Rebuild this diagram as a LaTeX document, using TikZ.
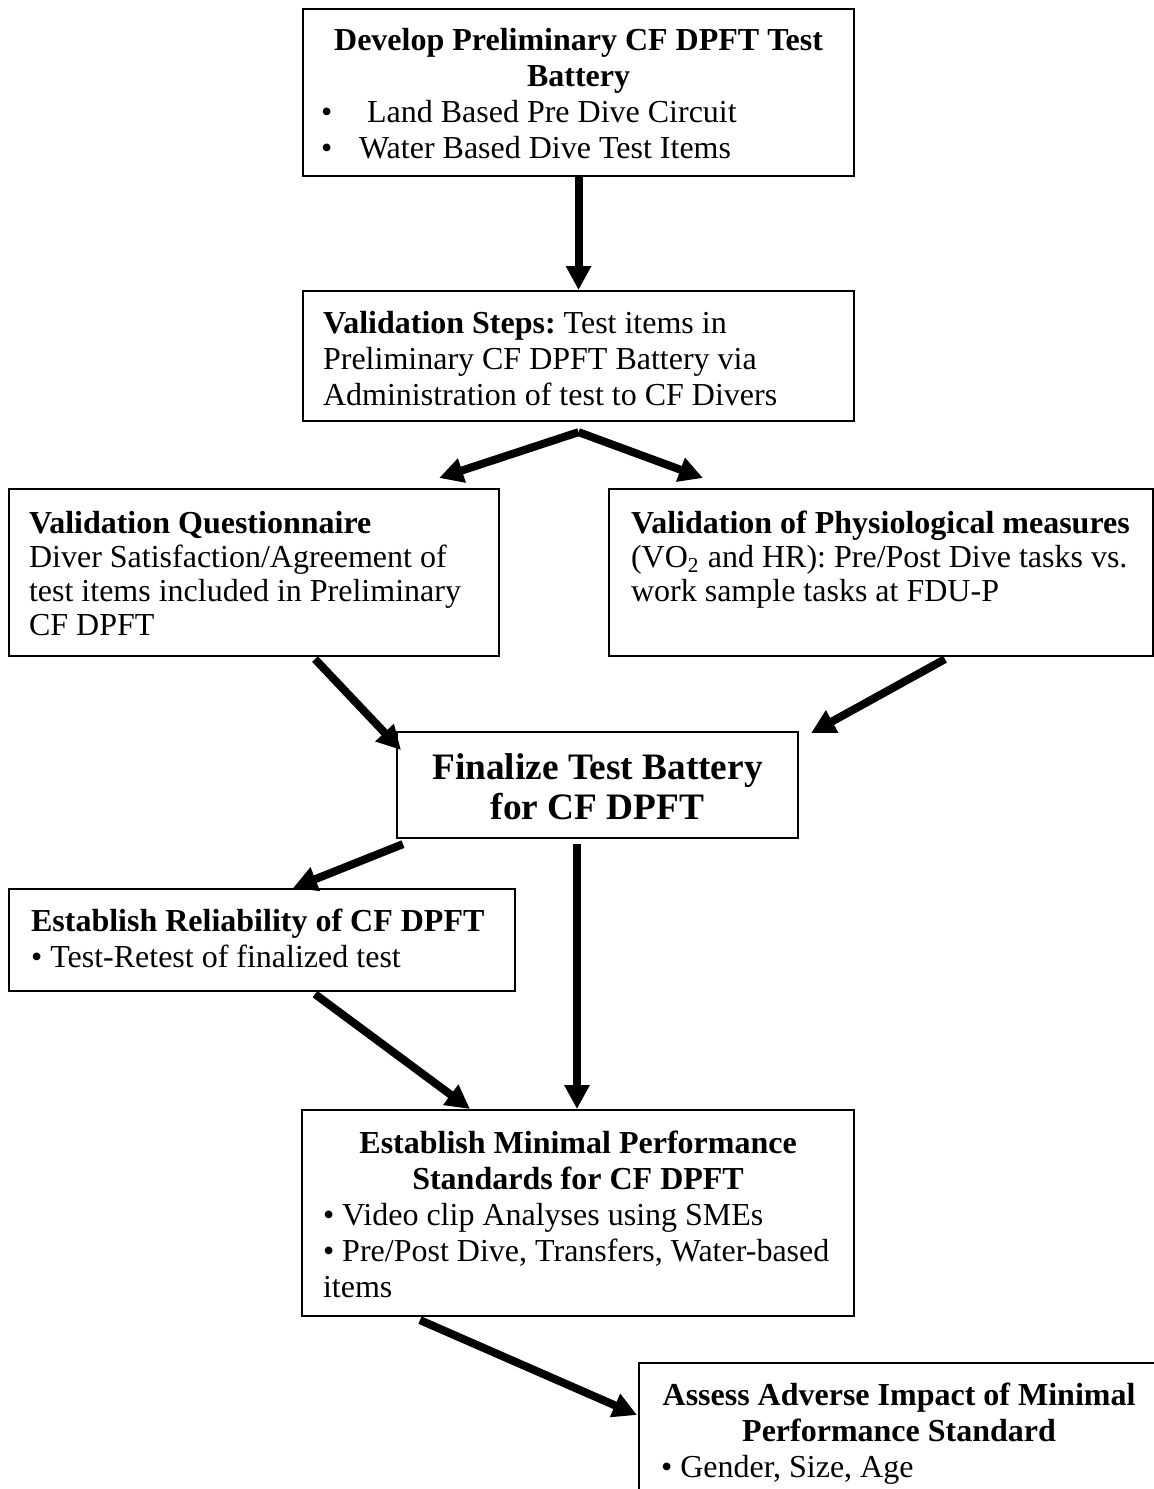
\documentclass[tikz,border=0pt]{standalone}
\usepackage{fontspec}
\setmainfont{Liberation Serif}
\usepackage{tikz}
\usetikzlibrary{arrows.meta,calc}
\frenchspacing

\newlength\pxu
\setlength\pxu{0.375pt}
% box text: width, height, top gap, left pad, text
\newcommand{\boxtxt}[5]{\parbox[c][#2\pxu][t]{#1\pxu}{\vspace*{#3\pxu}\leftskip=#4\pxu\relax #5}}
\newcommand{\bul}[1]{\makebox[#1\pxu][l]{\textbullet}}

\begin{document}
\begin{tikzpicture}[x=0.375pt, y=-0.375pt,
	box/.style={draw, line width=0.8pt, inner sep=0pt, anchor=north west, font=\fontsize{12}{13.5}\selectfont},
	arr/.style={-{Triangle[length=9pt, width=9pt]}, line width=3pt}]
	\useasboundingbox (0,0) rectangle (1154,1489);
	\clip (0,0) rectangle (1154,1489);

	\node[box] (dev) at (302,8) {\boxtxt{551}{167}{19}{0}{%
		{\centering\bfseries Develop Preliminary CF DPFT Test\\ Battery\par}
		\leftskip=18\pxu \bul{46}Land Based Pre Dive Circuit\\
		\bul{38}Water Based Dive Test Items}};
	\node[box] (steps) at (302,290) {\boxtxt{551}{130}{20}{20}{%
		\textbf{Validation Steps:} Test items in\\
		Preliminary CF DPFT Battery via\\
		Administration of test to CF Divers}};
	\node[box] (quest) at (8,488) {\boxtxt{490}{167}{22}{20}{%
		\fontsize{12}{12.8}\selectfont
		\textbf{Validation Questionnaire}\\
		Diver Satisfaction/Agreement of\\
		test items included in Preliminary\\
		CF DPFT}};
	\node[box] (phys) at (608,488) {\boxtxt{544}{167}{22}{22}{%
		\fontsize{12}{12.8}\selectfont
		\textbf{Validation of Physiological measures}\\
		(VO\textsubscript{2} and HR): Pre/Post Dive tasks vs.\\
		work sample tasks at FDU-P}};
	\node[box] (fin) at (396,731) {\boxtxt{401}{106}{22}{0}{%
		\centering\fontsize{14}{15}\selectfont\bfseries
		Finalize Test Battery\\ for CF DPFT}};
	\node[box] (rel) at (8,888) {\boxtxt{506}{102}{20}{22}{%
		\textbf{Establish Reliability of CF DPFT}\\
		\textbullet{} Test-Retest of finalized test}};
	\node[box] (min) at (301,1109) {\boxtxt{552}{206}{21}{0}{%
		{\centering\bfseries Establish Minimal Performance\\ Standards for CF DPFT\par}
		\leftskip=21\pxu
		\textbullet{} Video clip Analyses using SMEs\\
		\textbullet{} Pre/Post Dive, Transfers, Water-based\\
		items}};
	% right edge of this box falls outside the page
	\node[box] (ass) at (638,1362) {\boxtxt{540}{200}{20}{0}{%
		{\centering\rightskip=20\pxu plus 1fil\bfseries Assess Adverse Impact of Minimal\\ Performance Standard\par}
		\leftskip=22\pxu
		\textbullet{} Gender, Size, Age}};

	\draw[arr] (dev.south) -- (steps.north);
	\draw[arr] ($(steps.south)+(0,10)$) -- ($(quest.north east)+(-61,-10)$);
	\draw[arr] ($(steps.south)+(0,10)$) -- ($(phys.north west)+(95,-10)$);
	\draw[arr] ($(quest.south west)+(307,2)$) -- ($(fin.north west)+(5,19)$);
	\draw[arr] ($(phys.south west)+(337,2)$) -- ($(fin.north east)+(12,2)$);
	\draw[arr] ($(fin.south west)+(7,5)$) -- ($(rel.north west)+(285,0)$);
	\draw[arr] ($(fin.south west)+(181,5)$) -- ($(min.north west)+(276,0)$);
	\draw[arr] ($(rel.south west)+(307,2)$) -- ($(min.north west)+(169,0)$);
	\draw[arr] ($(min.south west)+(119,3)$) -- ($(ass.north west)+(-1,53)$);
\end{tikzpicture}
\end{document}
